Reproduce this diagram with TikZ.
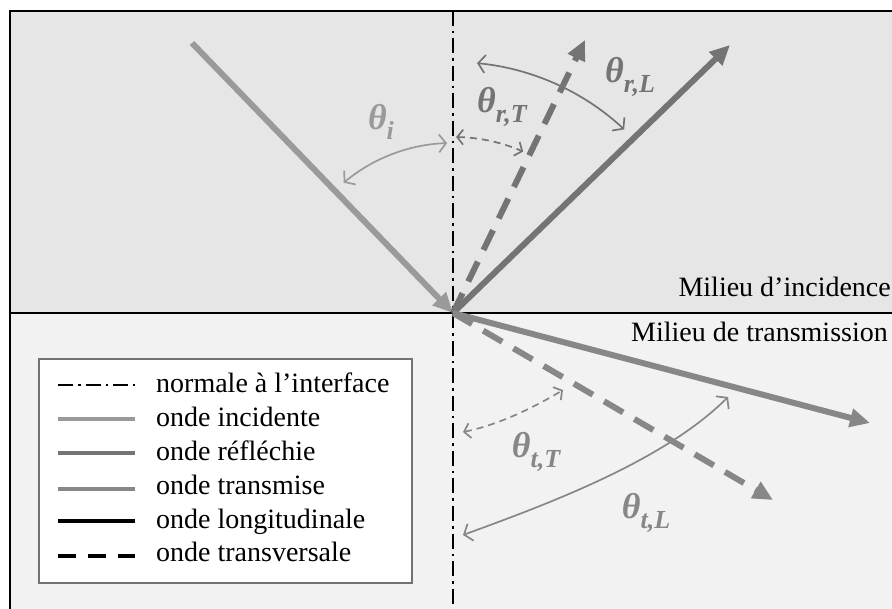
\documentclass[tikz,border=0pt]{standalone}
\usepackage{fontspec}
\setmainfont{Liberation Serif}
\usetikzlibrary{arrows.meta, calc, positioning}

\definecolor{incgray}{HTML}{9A9A9A}
\definecolor{refgray}{HTML}{747474}
\definecolor{tragray}{HTML}{878787}
\definecolor{topfill}{HTML}{E6E6E6}
\definecolor{botfill}{HTML}{F2F2F2}

% angle label: bold italic theta with a lowered index
\newcommand{\anglab}[1]{\bfseries\itshape θ\raisebox{-10pt}{\fontsize{26}{28}\selectfont #1}}

\begin{document}
\begin{tikzpicture}[
	x=1pt, y=-1pt,
	wave/.style={line width=6pt, -{Triangle[length=20pt,width=18pt]}},
	shear/.style={wave, dash pattern=on 22pt off 13pt},
	angarc/.style={line width=1.7pt, {Straight Barb[length=7pt,width=18pt]}-{Straight Barb[length=7pt,width=18pt]}},
	angdash/.style={line width=1.7pt, dash pattern=on 7pt off 5pt, {Straight Barb[length=6pt,width=15pt]}-{Straight Barb[length=6pt,width=15pt]}},
	anglabel/.style={font=\fontsize{36}{38}\selectfont, inner sep=0pt},
	milieu/.style={font=\fontsize{28}{30}\selectfont, anchor=base east, inner sep=0pt},
	legtext/.style={font=\fontsize{28}{30}\selectfont, anchor=base west, inner sep=0pt},
	normalline/.style={line width=2.2pt, dash pattern=on 15pt off 5pt on 2.5pt off 5pt},
	legline/.style={line width=4pt}
]
\useasboundingbox (0,0) rectangle (892,609);
\clip (0,0) rectangle (892,609);

% the two media
\fill[topfill] (10,11) rectangle (900,313);
\fill[botfill] (10,313) rectangle (900,620);
\draw[line width=2.5pt] (10,620) -- (10,11) -- (900,11);
\draw[line width=2.5pt] (10,313) -- (900,313);

% point of incidence and ends of the rays
\coordinate (O) at (453,313);
\coordinate (ntop) at (453,11);
\coordinate (nbot) at (453,615);
\coordinate (inc) at (192,43);
\coordinate (refL) at (730,45);
\coordinate (refT) at (585,40);
\coordinate (traL) at (870,423);
\coordinate (traT) at (773,500);

% normale
\draw[normalline] (ntop) -- (nbot);

% rays
\draw[wave, incgray] (inc) -- (O);
\draw[wave, refgray] (O) -- (refL);
\draw[shear, refgray] (O) -- (refT);
\draw[wave, tragray] (O) -- (traL);
\draw[shear, tragray] (O) -- (traT);

% angles
\draw[angarc, incgray] ($(O)+(-130:170)$) arc[start angle=-130, end angle=-92, radius=170];
\draw[angarc, refgray] ($(O)+(-84.5:251)$) arc[start angle=-84.5, end angle=-47, radius=251];
\draw[angdash, refgray] ($(O)+(-89:176)$) arc[start angle=-89, end angle=-66.5, radius=176];
\draw[angdash, tragray] (463,432) .. controls (498,425) and (533,408) .. (563,390);
\draw[angarc, tragray] (463,535) .. controls (548,504) and (664,461) .. (728,397);

\node[anglabel, text=incgray] (thi) at (381,122) {\anglab{i}};
\node[anglabel, text=refgray] (thrT) at (502,107) {\anglab{r,T}};
\node[anglabel, text=refgray] (thrL) at (630,77) {\anglab{r,L}};
\node[anglabel, text=tragray] (thtT) at (536,452) {\anglab{t,T}};
\node[anglabel, text=tragray] (thtL) at (646,513) {\anglab{t,L}};

% media labels
\node[milieu] (minc) at (891,297) {Milieu d’incidence};
\node[milieu] (mtra) at (888,342) {Milieu de transmission};

% legend
\draw[line width=1.5pt, draw=black!55, fill=white] (39,359) rectangle (412,583);
\draw[normalline] (58,385) -- (135,385);
\draw[legline, incgray] (58,419) -- (135,419);
\draw[legline, refgray] (58,453) -- (135,453);
\draw[legline, tragray] (58,489) -- (135,489);
\draw[legline, black] (58,521) -- (135,521);
\draw[legline, black, dash pattern=on 18pt off 12pt] (58,556) -- (135,556);
\node[legtext] (l1) at (156,393) {normale à l’interface};
\node[legtext] (l2) at (156,427) {onde incidente};
\node[legtext] (l3) at (156,461) {onde réfléchie};
\node[legtext] (l4) at (156,494) {onde transmise};
\node[legtext] (l5) at (156,528) {onde longitudinale};
\node[legtext] (l6) at (156,561) {onde transversale};

\end{tikzpicture}
\end{document}
